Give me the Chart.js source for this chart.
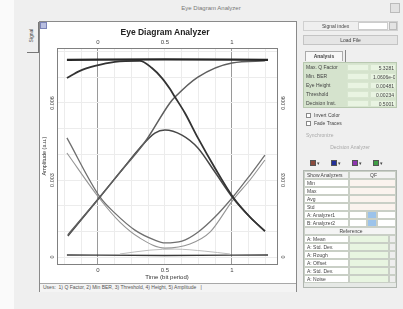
<!DOCTYPE html>
<html>
<head>
<meta charset="utf-8">
<script src="https://cdn.jsdelivr.net/npm/chart.js@4.4.1/dist/chart.umd.min.js"></script>
<style>
  html, body { margin: 0; padding: 0; }
  body { width: 403px; height: 309px; background: #fafafa; position: relative; overflow: hidden;
         font-family: 'Liberation Sans', Arial, sans-serif; color: #444; }
  .abs { position: absolute; }
  #win { left: 14px; top: 0; width: 389px; height: 309px; background: #efefef; }
  #frame { left: 39px; top: 21px; width: 256px; height: 269px; border: 1px solid #8a8a8a; background: #fff; }
  #plot { left: 0; top: 0; }
  .t { font-size: 5.5px; white-space: nowrap; line-height: 1; }
  .cell { position: absolute; box-sizing: border-box; border: 1px solid #c9cfc6; font-size: 5px; line-height: 7px;
          padding-left: 2px; white-space: nowrap; overflow: hidden; }
  .chk { position: absolute; width: 5px; height: 5px; border: 1px solid #888; background: #fff; box-sizing: border-box; }
</style>
</head>
<body>
<div id="win" class="abs"></div>
<div class="abs t" style="left:173px;top:5px;width:76px;text-align:center;color:#777;font-size:6px;">Eye Diagram Analyzer</div>
<div class="abs" style="left:390px;top:3px;width:10px;height:10px;border:1px solid #bbb;background:#e2e2e2;box-sizing:border-box;"></div>

<!-- side tab -->
<div class="abs" style="left:27px;top:22px;width:11px;height:30px;border-right:1px solid #777;border-bottom:1px solid #777;"></div>
<div class="abs t" style="left:18px;top:33px;width:26px;text-align:center;transform:rotate(-90deg);font-size:5px;">Signal</div>

<div id="frame" class="abs">
  <canvas id="plot" class="abs" width="256" height="262"></canvas>
  <div class="abs" style="left:0;top:0;width:7px;height:7px;background:#b9bfe0;border:1px solid #7c84b8;box-sizing:border-box;"></div>
  <div class="abs t" style="left:60px;top:6px;width:130px;text-align:center;font-weight:bold;font-size:8.5px;color:#222;">Eye Diagram Analyzer</div>
  <div class="abs" style="left:0;top:261px;width:256px;height:8px;border-top:1px solid #a8a8a8;background:#f4f4f4;"></div>
  <div class="abs t" style="left:3px;top:263px;font-size:5px;color:#555;">Uses:&nbsp; 1) Q Factor, 2) Min BER, 3) Threshold, 4) Height, 5) Amplitude&nbsp; &nbsp;|</div>
</div>

<!-- right panel -->
<div class="abs" style="left:303px;top:21px;width:95px;height:10px;border:1px solid #d0d0d0;box-sizing:border-box;"></div>
<div class="abs t" style="left:322px;top:24px;font-size:5px;">Signal index</div>
<div class="abs" style="left:358px;top:22px;width:30px;height:8px;background:#fff;border:1px solid #ccc;box-sizing:border-box;"></div>
<div class="abs" style="left:389px;top:22px;width:8px;height:8px;background:#e4e4e4;border:1px solid #bbb;box-sizing:border-box;"></div>
<div class="abs" style="left:303px;top:35px;width:95px;height:10px;background:#e5e5e5;border:1px solid #c4c4c4;box-sizing:border-box;"></div>
<div class="abs t" style="left:303px;top:38px;width:95px;text-align:center;font-size:5px;">Load File</div>

<div class="abs" style="left:305px;top:51px;width:38px;height:10px;background:#f7f7f7;border:1px solid #aaa;border-bottom:none;box-sizing:border-box;"></div>
<div class="abs t" style="left:305px;top:54px;width:38px;text-align:center;font-size:5px;font-weight:bold;">Analysis</div>
<div class="abs" style="left:345px;top:50px;width:1px;height:12px;background:#888;"></div>

<div id="resTable" class="abs" style="left:303px;top:62px;width:94px;height:46px;background:#d5e3cd;border:1px solid #b8c8b0;box-sizing:border-box;"></div>

<div class="chk" style="left:306px;top:113px;"></div>
<div class="abs t" style="left:314px;top:113px;font-size:5px;">Invert Color</div>
<div class="chk" style="left:306px;top:121px;"></div>
<div class="abs t" style="left:314px;top:121px;font-size:5px;">Fade Traces</div>
<div class="abs t" style="left:306px;top:133px;font-size:5px;color:#aaa;">Synchronize</div>
<div class="abs t" style="left:303px;top:145px;width:94px;text-align:center;font-size:5px;color:#aaa;">Decision Analyzer</div>

<div id="icons" class="abs" style="left:300px;top:158px;width:98px;height:10px;"></div>
<div id="anTable" class="abs" style="left:303px;top:170px;width:94px;height:118px;background:#e6e9e6;border:1px solid #b0b6b0;box-sizing:border-box;"></div>

<script>
// ---- data ----
// time in bit periods, amplitude in a.u.
const xMin = -0.305;
const xMax = 1.336;
const yMin = -0.00027;
const yMax = 0.00814;

const xGridTicks = [-0.25, -0.125, 0, 0.125, 0.25, 0.375, 0.5, 0.625, 0.75, 0.875, 1, 1.125, 1.25];
const xLabelTicks = [0, 0.5, 1];
const xLabelText = ['0', '0.5', '1'];
const xMajorTicks = [0, 1];

const yGridTicks = [0, 0.001, 0.002, 0.003, 0.004, 0.005, 0.006, 0.007, 0.008];
const yLabelTicks = [0, 0.003, 0.006];
const yLabelText = ['0', '0.003', '0.006'];

// "1" level
const topLevel = [[-0.231, 0.00768], [0.5, 0.00770], [1.269, 0.00768]];
// rise into "1", then fall through the crossing at t = 1
const traceA = [[-0.231, 0.00697], [-0.134, 0.00725], [-0.022, 0.00744], [0.127, 0.00760], [0.313, 0.00764],
  [0.403, 0.00736], [0.478, 0.00697], [0.537, 0.00655], [0.575, 0.00623], [0.649, 0.00561],
  [0.746, 0.00464], [0.873, 0.00347], [1.007, 0.00234], [1.134, 0.00156], [1.246, 0.00101]];
// rise from "0" through the crossing at t = 0 up to "1"
const traceB = [[-0.224, 0.00086], [0.015, 0.00234], [0.179, 0.00339], [0.351, 0.00448], [0.537, 0.00600],
  [0.575, 0.00623], [0.746, 0.00701], [1.0, 0.00756], [1.246, 0.00764]];
// inner upper arc
const traceC = [[-0.224, 0.00082], [0.015, 0.00234], [0.179, 0.00339], [0.313, 0.00425], [0.425, 0.00483],
  [0.5, 0.00495], [0.627, 0.00475], [0.746, 0.00425], [0.873, 0.00331], [1.007, 0.00230],
  [1.134, 0.00156], [1.246, 0.00101]];
// lower arcs
const traceD1 = [[-0.231, 0.00464], [0.015, 0.00234], [0.127, 0.00171], [0.276, 0.00105], [0.425, 0.00066],
  [0.5, 0.00055], [0.627, 0.00062], [0.746, 0.00097], [0.873, 0.00156], [1.007, 0.00234],
  [1.119, 0.00308], [1.246, 0.00397]];
const traceD2 = [[-0.231, 0.00405], [0.015, 0.00226], [0.164, 0.00136], [0.313, 0.00074], [0.5, 0.00035],
  [0.687, 0.00051], [0.836, 0.00097], [1.007, 0.00222], [1.134, 0.00300], [1.246, 0.00378]];
const traceD3 = [[0.164, 0.00012], [0.388, 0.00027], [0.575, 0.00031], [0.798, 0.00023], [0.985, 0.00012]];
// "0" level
const bottomLevel = [[-0.231, 0.00008], [0.5, 0.00006], [1.269, 0.00008]];

// right panel texts
const resultLabels = ['Max. Q Factor', 'Min. BER', 'Eye Height', 'Threshold', 'Decision Inst.'];
const resultValues = ['5.3281', '1.0606e-007', '0.00481', '0.00234', '0.5001'];
const iconColors = ['#8a4a3c', '#23309a', '#8e36b0', '#3f9e45'];
const showRows = ['Min', 'Max', 'Avg', 'Std'];
const analyzerRows = ['A: Analyzer1', 'B: Analyzer2'];
const refRows = ['A: Mean', 'A: Std. Dev.', 'A: Rough', 'A: Offset', 'A: Std. Dev.', 'A: Noise'];

// ---- side panel ----
function addCell(parent, x, y, w, h, text, style) {
  const d = document.createElement('div');
  d.className = 'cell';
  d.style.left = x + 'px'; d.style.top = y + 'px';
  d.style.width = w + 'px'; d.style.height = h + 'px';
  d.textContent = text || '';
  if (style) Object.assign(d.style, style);
  parent.appendChild(d);
  return d;
}

const resTable = document.getElementById('resTable');
resultLabels.forEach((lab, i) => {
  const y = i * 9;
  addCell(resTable, 0, y, 42, 9, lab, { border: 'none', lineHeight: '9px' });
  addCell(resTable, 43, y + 1, 22, 7, '', { background: '#e9f4e2', borderColor: '#d8e6d0' });
  addCell(resTable, 66, y + 1, 26, 7, resultValues[i], { background: '#e9f4e2', borderColor: '#d8e6d0', textAlign: 'right', paddingRight: '1px' });
});

const icons = document.getElementById('icons');
iconColors.forEach((c, i) => {
  const x = 10 + i * 21;
  addCell(icons, x, 2, 6, 6, '', { background: c, border: '1px solid #555', padding: '0' });
  addCell(icons, x + 7, 2, 6, 6, '\u25BE', { border: 'none', padding: '0', fontSize: '5px', lineHeight: '6px' });
});

const anTable = document.getElementById('anTable');
let ry = 0;
addCell(anTable, 0, ry, 45, 8, 'Show Analyzers', { background: '#f2f2f2' });
addCell(anTable, 45, ry, 47, 8, 'QF', { background: '#f2f2f2', textAlign: 'center' });
ry += 8;
showRows.forEach(r => {
  addCell(anTable, 0, ry, 45, 8, r, { background: '#fff' });
  addCell(anTable, 45, ry, 47, 8, '', { background: '#fbf3ee' });
  ry += 8;
});
analyzerRows.forEach(r => {
  addCell(anTable, 0, ry, 45, 8, r, { background: '#fff' });
  addCell(anTable, 45, ry, 18, 8, '', { background: '#fff' });
  addCell(anTable, 63, ry, 10, 8, '', { background: '#9cc3ea' });
  addCell(anTable, 73, ry, 19, 8, '', { background: '#fff' });
  ry += 8;
});
addCell(anTable, 0, ry, 92, 8, 'Reference', { background: '#f4f4f4', textAlign: 'center' });
ry += 8;
refRows.forEach(r => {
  addCell(anTable, 0, ry, 45, 8, r, { background: '#fff' });
  addCell(anTable, 45, ry, 40, 8, '', { background: '#e8f5e1' });
  addCell(anTable, 85, ry, 7, 8, '', { background: '#eee' });
  ry += 8;
});

// ---- chart ----
const near = (a, b) => Math.abs(a - b) < 1e-9;
const toXY = arr => arr.map(p => ({ x: p[0], y: p[1] }));

function trace(data, color, width) {
  return {
    data: toXY(data),
    borderColor: color,
    borderWidth: width,
    pointRadius: 0,
    fill: false,
    cubicInterpolationMode: 'monotone'
  };
}

const rotatedYLabels = {
  id: 'rotatedYLabels',
  afterDraw(chart) {
    const { ctx } = chart;
    const left = chart.scales.y;
    const right = chart.scales.y2;
    ctx.save();
    ctx.font = '5.5px "Liberation Sans", Arial, sans-serif';
    ctx.fillStyle = '#444';
    ctx.textAlign = 'center';
    ctx.textBaseline = 'middle';
    yLabelTicks.forEach((v, i) => {
      [[left.right - 5, left], [right.left + 6, right]].forEach(([px, sc]) => {
        ctx.save();
        ctx.translate(px, sc.getPixelForValue(v));
        ctx.rotate(-Math.PI / 2);
        ctx.fillText(yLabelText[i], 0, 0);
        ctx.restore();
      });
    });
    ctx.restore();
  }
};

Chart.defaults.font.family = "'Liberation Sans', Arial, sans-serif";
Chart.defaults.font.size = 6;

new Chart(document.getElementById('plot'), {
  type: 'line',
  data: {
    datasets: [
      trace(topLevel, '#262626', 2.2),
      trace(traceA, '#333333', 1.8),
      trace(traceB, '#5e5e5e', 1.5),
      trace(traceC, '#474747', 1.5),
      trace(traceD1, '#6f6f6f', 1.3),
      trace(traceD2, '#959595', 1.1),
      trace(traceD3, '#bdbdbd', 1),
      trace(bottomLevel, '#3a3a3a', 1.3)
    ]
  },
  options: {
    responsive: false,
    animation: false,
    layout: { padding: 0 },
    plugins: { legend: { display: false }, tooltip: { enabled: false } },
    scales: {
      x: {
        type: 'linear', position: 'bottom', min: xMin, max: xMax,
        afterFit: s => { s.height = 20; },
        afterBuildTicks: s => { s.ticks = xGridTicks.map(v => ({ value: v })); },
        grid: {
          drawTicks: false,
          color: c => xMajorTicks.some(v => near(v, c.tick.value)) ? '#9a9a9a' : '#ececec'
        },
        border: { color: '#808080' },
        ticks: {
          padding: 3, color: '#444', maxRotation: 0, autoSkip: false,
          callback: v => {
            const i = xLabelTicks.findIndex(t => near(t, v));
            return i >= 0 ? xLabelText[i] : '';
          }
        },
        title: { display: true, text: 'Time (bit period)', color: '#333', font: { size: 6 }, padding: { top: 0, bottom: 3 } }
      },
      x2: {
        type: 'linear', position: 'top', min: xMin, max: xMax,
        afterFit: s => { s.height = 26; },
        afterBuildTicks: s => { s.ticks = xGridTicks.map(v => ({ value: v })); },
        grid: { display: false, drawTicks: false },
        border: { color: '#808080' },
        ticks: {
          padding: 2, color: '#444', maxRotation: 0, autoSkip: false,
          callback: v => {
            const i = xLabelTicks.findIndex(t => near(t, v));
            return i >= 0 ? xLabelText[i] : '';
          }
        }
      },
      y: {
        type: 'linear', position: 'left', min: yMin, max: yMax,
        afterFit: s => { s.width = 17; },
        afterBuildTicks: s => { s.ticks = yGridTicks.map(v => ({ value: v })); },
        grid: { drawTicks: false, color: '#ececec' },
        border: { color: '#808080' },
        ticks: { display: false },
        title: { display: true, text: 'Amplitude (a.u.)', color: '#333', font: { size: 5.5 }, padding: { top: 1, bottom: 0 } }
      },
      y2: {
        type: 'linear', position: 'right', min: yMin, max: yMax,
        afterFit: s => { s.width = 19; },
        afterBuildTicks: s => { s.ticks = yGridTicks.map(v => ({ value: v })); },
        grid: { display: false, drawTicks: false },
        border: { color: '#808080' },
        ticks: { display: false }
      }
    }
  },
  plugins: [rotatedYLabels]
});
</script>
</body>
</html>
